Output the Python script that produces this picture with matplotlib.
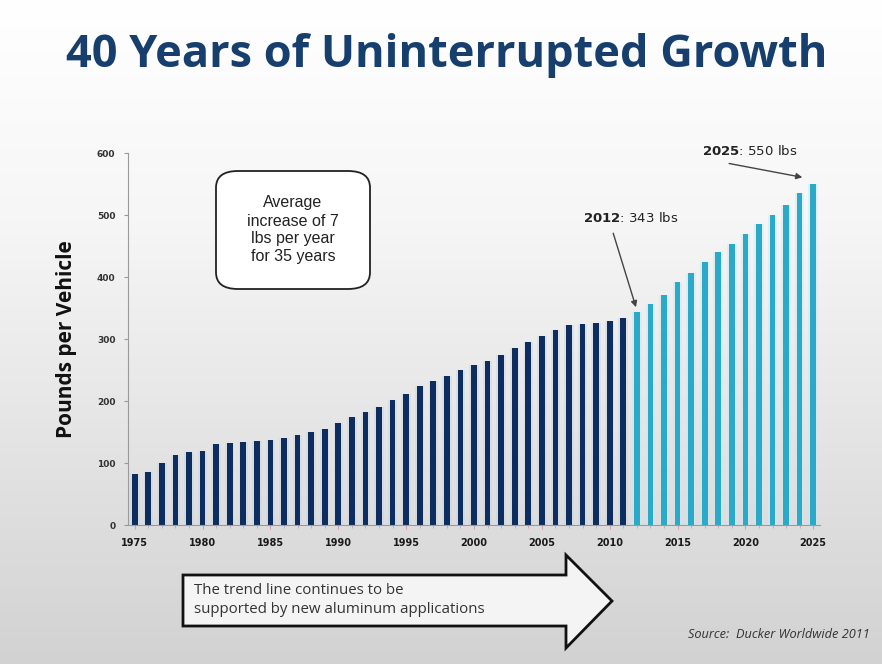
import numpy as np
import matplotlib
matplotlib.use("Agg")
import matplotlib.pyplot as plt
from matplotlib.patches import FancyBboxPatch, Polygon

# aluminum content per vehicle, lbs (actual through 2011, forecast from 2012)
years = np.arange(1975, 2026)
lbs_actual = [83, 86, 100, 113, 117, 119, 130, 133, 134, 136,
              137, 141, 145, 150, 155, 164, 174, 182, 191, 201,
              212, 224, 233, 241, 250, 258, 264, 275, 285, 295,
              305, 315, 322, 325, 326, 329, 334]
lbs_forecast = [343, 356, 371, 392, 407, 424, 440, 453, 469, 486,
                500, 517, 535, 550]
lbs = np.array(lbs_actual + lbs_forecast)
first_forecast = 2012

navy = "#0c2d5e"
teal = "#2aaac8"
title_blue = "#173f6e"

fig = plt.figure(figsize=(8.82, 6.64), dpi=100)

# slide background: light vertical gradient
bg = fig.add_axes([0, 0, 1, 1], zorder=-10)
grad = np.linspace(1.0, 0.0, 256).reshape(-1, 1)
bg.imshow(grad, aspect="auto", cmap=matplotlib.colors.LinearSegmentedColormap.from_list(
    "slide", ["#d2d2d2", "#e4e4e4", "#f6f6f6", "#ffffff"]), extent=[0, 1, 0, 1])
bg.set_xlim(0, 1)
bg.set_ylim(0, 1)
bg.axis("off")

fig.text(0.507, 0.917, "40 Years of Uninterrupted Growth", ha="center", va="center",
         fontsize=32.5, fontweight="bold", color=title_blue, family="Open Sans")

ax = fig.add_axes([0.1451, 0.2093, 0.7846, 0.5602])
ax.set_facecolor("none")

colors = [navy if y < first_forecast else teal for y in years]
glow = ["#c9d6e6" if y < first_forecast else "#c6e9f1" for y in years]
ax.bar(years, lbs, width=0.7, color=glow, alpha=0.45, zorder=1)
ax.bar(years, lbs, width=0.42, color=colors, zorder=2)

ax.set_xlim(1974.5, 2025.5)
ax.set_ylim(0, 600)
ax.set_yticks(np.arange(0, 601, 100))
ax.set_xticks(np.arange(1975, 2026, 5))
ax.set_xticks(years, minor=True)
ax.tick_params(axis="y", labelsize=6.5, length=3, color="#999999", labelcolor="#333333", pad=6)
ax.tick_params(axis="x", which="major", labelsize=7, length=3, color="#d9a0a0",
               labelcolor="#1a1a1a", pad=6)
ax.tick_params(axis="x", which="minor", length=2.5, color="#d9a0a0")
for lab in ax.get_xticklabels() + ax.get_yticklabels():
    lab.set_fontweight("bold")
    lab.set_family("DejaVu Sans Condensed")
for side in ["top", "right"]:
    ax.spines[side].set_visible(False)
ax.spines["left"].set_color("#9a9a9a")
ax.spines["bottom"].set_color("#9a9a9a")

ax.set_ylabel("Pounds per Vehicle", fontsize=15, fontweight="bold", family="Open Sans",
              labelpad=14, color="#111111")

# callouts for the 2012 and 2025 values
v2012 = lbs[years == 2012][0]
v2025 = lbs[years == 2025][0]
ax.annotate("", xy=(2012, v2012 + 4), xytext=(2010.2, 475),
            arrowprops=dict(arrowstyle="-|>", color="#444444", lw=1, mutation_scale=9))
ax.text(2008.0, 496, r"$\bf{2012}$" + f": {v2012} lbs", fontsize=9.5, color="#222222",
        va="center", family="DejaVu Sans")
ax.annotate("", xy=(2024.4, 560), xytext=(2018.6, 584),
            arrowprops=dict(arrowstyle="-|>", color="#444444", lw=1, mutation_scale=9))
ax.text(2016.8, 604, r"$\bf{2025}$" + f": {v2025} lbs", fontsize=9.5, color="#222222",
        va="center", family="DejaVu Sans", clip_on=False)

# rounded note box
box = FancyBboxPatch((216 / 882, 375 / 664), 154 / 882, 118 / 664,
                     boxstyle="round,pad=0,rounding_size=0.025", transform=fig.transFigure,
                     facecolor="#ffffff", edgecolor="#222222", lw=1.3, zorder=5)
fig.patches.append(box)
fig.text(293 / 882, 434 / 664, "Average\nincrease of 7\nlbs per year\nfor 35 years",
         ha="center", va="center", fontsize=11.5, color="#222222", linespacing=1.25,
         family="Liberation Sans", zorder=6)

# block arrow at the bottom
W, H = 882, 664
pts = [(183, 575), (566, 575), (566, 555), (612, 601), (566, 648), (566, 626), (183, 626)]
arrow = Polygon([(x / W, 1 - y / H) for x, y in pts], closed=True, transform=fig.transFigure,
                facecolor="#f4f4f4", edgecolor="#111111", lw=2, zorder=5)
fig.patches.append(arrow)
fig.text(194 / W, 1 - 600 / H, "The trend line continues to be\nsupported by new aluminum applications",
         ha="left", va="center", fontsize=10.8, color="#333333", linespacing=1.45,
         family="Open Sans", zorder=6)

fig.text(870 / W, 1 - 634 / H, "Source:  Ducker Worldwide 2011", ha="right", va="center",
         fontsize=9.2, style="italic", color="#333333", family="Open Sans")

fig.savefig("out.png", dpi=100)
